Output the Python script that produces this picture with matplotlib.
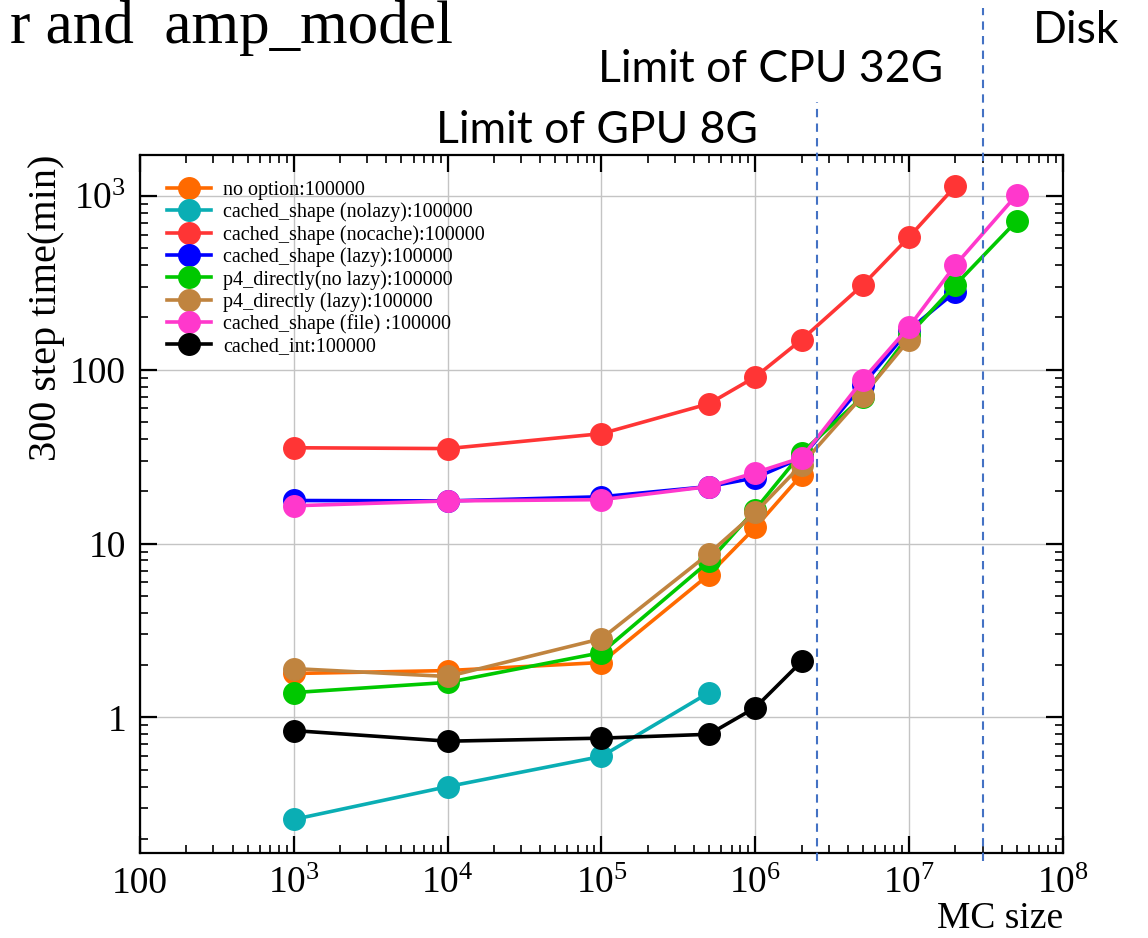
import matplotlib
matplotlib.use("Agg")
import matplotlib.pyplot as plt
import matplotlib.ticker as mticker
import matplotlib.transforms as mtransforms

# ---------------------------------------------------------
# DATA
# ---------------------------------------------------------
mc_size = [1e3, 1e4, 1e5, 5e5, 1e6, 2e6, 5e6, 1e7, 2e7, 5e7]

no_option      = [1.79, 1.86, 2.07, 6.64, 12.4, 24.9]
cached_nolazy  = [0.259, 0.40, 0.597, 1.39]
cached_nocache = [35.6, 35.2, 42.9, 63.8, 91, 149, 308, 581, 1141]
cached_lazy    = [17.7, 17.6, 18.6, 21.3, 23.9, 31.2, 82, 170, 281]
p4_nolazy      = [1.39, 1.59, 2.36, 7.9, 15.7, 33.3, 70, 159, 308, 718]
p4_lazy        = [1.91, 1.72, 2.84, 8.77, 15.1, 28.5, 71, 149]
cached_file    = [16.5, 17.6, 17.9, 21.3, 25.6, 31.2, 87.7, 177, 401, 1014]
cached_int     = [0.84, 0.73, 0.76, 0.80, 1.14, 2.10]

labels = [
    "no option:100000",
    "cached_shape (nolazy):100000",
    "cached_shape (nocache):100000",
    "cached_shape (lazy):100000",
    "p4_directly(no lazy):100000",
    "p4_directly (lazy):100000",
    "cached_shape (file) :100000",
    "cached_int:100000",
]
series = [no_option, cached_nolazy, cached_nocache, cached_lazy,
          p4_nolazy, p4_lazy, cached_file, cached_int]
colors = ["#ff6a00", "#0aaeb4", "#ff3535", "#0000ff",
          "#00c800", "#c0843f", "#ff38cc", "#000000"]

x_ticks = [1e2, 1e3, 1e4, 1e5, 1e6, 1e7, 1e8]
x_ticklabels = ["100", "$10^{3}$", "$10^{4}$", "$10^{5}$",
                "$10^{6}$", "$10^{7}$", "$10^{8}$"]
y_ticks = [1, 10, 100, 1000]
y_ticklabels = ["1", "10", "100", "$10^{3}$"]

gpu_limit = 2.5e6
cpu_limit = 3e7

# ---------------------------------------------------------
# STYLE
# ---------------------------------------------------------
plt.rcParams["font.family"] = ["Liberation Serif", "DejaVu Serif"]
plt.rcParams["mathtext.fontset"] = "custom"
plt.rcParams["mathtext.rm"] = "Liberation Serif"
plt.rcParams["mathtext.it"] = "Liberation Serif:italic"

sans = ["Lato", "Noto Sans", "DejaVu Sans"]

fig = plt.figure(figsize=(11.48, 9.38), dpi=100)
ax = fig.add_axes([140 / 1148, 85 / 938, 923 / 1148, 698 / 938])

# ---------------------------------------------------------
# PLOT
# ---------------------------------------------------------
for y, lab, c in zip(series, labels, colors):
    ax.plot(mc_size[:len(y)], y, "-o", color=c, lw=2.6, ms=15.5,
            label=lab, zorder=3)

ax.set_xscale("log")
ax.set_yscale("log")
ax.set_xlim(1e2, 1e8)
ax.set_ylim(0.166, 1720)

ax.xaxis.set_major_locator(mticker.FixedLocator(x_ticks))
ax.xaxis.set_major_formatter(mticker.FixedFormatter(x_ticklabels))
ax.yaxis.set_major_locator(mticker.FixedLocator(y_ticks))
ax.yaxis.set_major_formatter(mticker.FixedFormatter(y_ticklabels))
ax.xaxis.set_minor_locator(mticker.LogLocator(base=10, subs=range(2, 10), numticks=20))
ax.yaxis.set_minor_locator(mticker.LogLocator(base=10, subs=range(2, 10), numticks=20))
ax.xaxis.set_minor_formatter(mticker.NullFormatter())
ax.yaxis.set_minor_formatter(mticker.NullFormatter())

ax.tick_params(which="both", direction="in", top=True, right=True)
ax.tick_params(which="major", length=12, width=1.6, labelsize=27, pad=10)
ax.tick_params(which="minor", length=6, width=1.2)
for s in ax.spines.values():
    s.set_linewidth(1.6)

ax.grid(True, which="major", color="#c4c4c4", lw=1.0, zorder=0)

ax.set_xlabel("MC size", fontsize=27, loc="right", labelpad=0)
ax.set_ylabel("300 step time(min)", fontsize=29, loc="top", labelpad=4)

ax.legend(loc="upper left", bbox_to_anchor=(27 / 923, 1 - 26 / 698),
          frameon=False, fontsize=14.5, labelspacing=0.13,
          handlelength=2.2, handletextpad=0.6, borderpad=0, borderaxespad=0)

# memory limit markers drawn over the figure
trans = mtransforms.blended_transform_factory(ax.transData, ax.transAxes)
ax.plot([gpu_limit, gpu_limit], [-0.012, (853 - 102) / 698], transform=trans,
        color="#4472c4", lw=1.5, ls=(0, (4, 3)), clip_on=False, zorder=5)
ax.plot([cpu_limit, cpu_limit], [-0.012, (853 - 8) / 698], transform=trans,
        color="#4472c4", lw=1.5, ls=(0, (4, 3)), clip_on=False, zorder=5)

fig.text(758 / 1148, 1 - 143 / 938, "Limit of GPU 8G", ha="right",
         va="baseline", fontsize=32, family=sans)
fig.text(943 / 1148, 1 - 82 / 938, "Limit of CPU 32G", ha="right",
         va="baseline", fontsize=32, family=sans)
fig.text(1033 / 1148, 1 - 43 / 938, "Disk", ha="left",
         va="baseline", fontsize=32, family=sans)

fig.text(453 / 1148, 1 - 43 / 938, "r and  amp_model", ha="right",
         va="baseline", fontsize=44)

fig.savefig("out.png", dpi=100)
plt.close(fig)
